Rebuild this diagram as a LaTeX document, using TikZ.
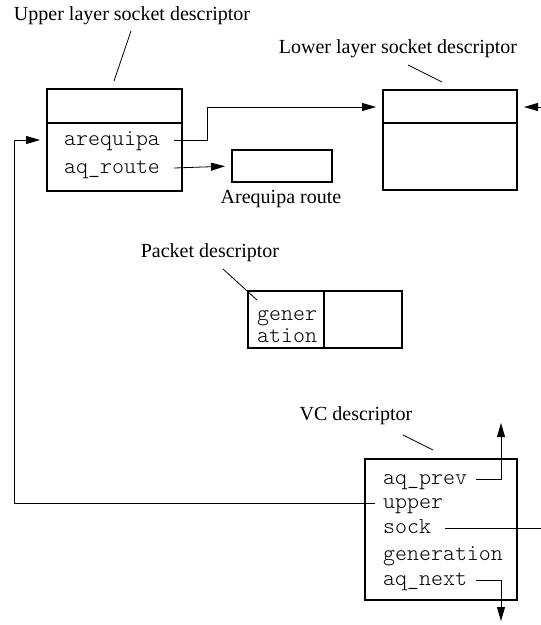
\documentclass[tikz,border=0pt]{standalone}
\usepackage{fontspec}
\setmainfont{Liberation Serif}
\setmonofont{Latin Modern Mono Light}
\usetikzlibrary{arrows.meta}
\begin{document}
\begin{tikzpicture}[x=1pt,y=-1pt,
  box/.style={draw,line width=1.3pt,inner sep=0,outer sep=0},
  fld/.style={font=\fontsize{22.8}{24}\selectfont\ttfamily,inner sep=0,anchor=west,text height=14pt,text depth=4pt},
  lbl/.style={font=\fontsize{20}{22}\selectfont,inner sep=0},
  lnk/.style={line width=0.8pt},
  arr/.style={lnk,-{Triangle[length=14pt,width=8pt]},shorten >=7pt},
  lead/.style={line width=0.8pt}]
\useasboundingbox (0,0) rectangle (541,625);
% upper layer socket descriptor
\node[box,minimum width=135pt,minimum height=102pt] (ub) at (114.5,140) {};
\draw[line width=1.3pt] (47,123) -- (182,123);
\node[fld] (arq) at (64,140) {arequipa};
\node[fld] (aqr) at (64,168) {aq\_route};
\node[lbl] (ubt) at (132,16) {Upper layer socket descriptor};
\coordinate (ubl1) at (131,31);
\coordinate (ubl2) at (114,81);
\draw[lead] (ubl1) -- (ubl2);
% lower layer socket descriptor
\node[box,minimum width=134pt,minimum height=100pt] (lb) at (450,140) {};
\draw[line width=1.3pt] (383,123) -- (517,123);
\node[lbl] (lbt) at (398,49) {Lower layer socket descriptor};
\coordinate (lbl1) at (408,65);
\coordinate (lbl2) at (442,82);
\draw[lead] (lbl1) -- (lbl2);
\coordinate (lbin) at (383,107);
\coordinate (lbinr) at (517,107);
\coordinate (redge) at (541,107);
% arequipa route
\node[box,minimum width=100pt,minimum height=32pt] (ar) at (282,166) {};
\node[lbl] (art) at (281,199) {Arequipa route};
% packet descriptor
\node[box,minimum width=154pt,minimum height=57pt] (pd) at (325,319.5) {};
\draw[line width=1.3pt] (324,291) -- (324,348);
\node[fld] (gen1) at (257,315) {gener};
\node[fld] (gen2) at (257,337) {ation};
\node[lbl] (pdt) at (210,253) {Packet descriptor};
\coordinate (pdl1) at (223,269);
\coordinate (pdl2) at (257,300);
\draw[lead] (pdl1) -- (pdl2);
% VC descriptor
\node[box,minimum width=152pt,minimum height=141pt] (vc) at (441,529.5) {};
\node[fld] (vprev) at (383,479) {aq\_prev};
\node[fld] (vup) at (383,503) {upper};
\node[fld] (vsock) at (383,528) {sock};
\node[fld] (vgen) at (383,555) {generation};
\node[fld] (vnext) at (383,580) {aq\_next};
\node[lbl] (vct) at (356,416) {VC descriptor};
\coordinate (vcl1) at (403,435);
\coordinate (vcl2) at (433,450);
\draw[lead] (vcl1) -- (vcl2);
\coordinate (ptop) at (501,416);
\coordinate (pbot) at (501,628);
\coordinate (sedge) at (541,528);
\coordinate (lft) at (14,140);
% connectors
\draw[arr] ([xshift=14pt]arq.east) -- ++(33pt,0) |- (lbin);
\draw[arr] ([xshift=14pt]aqr.east) -- (ar.west);
\draw[arr] (redge) -- (lbinr);
\draw[lnk] ([xshift=14pt]vsock.east) -- (sedge);
\draw[arr] ([xshift=9pt]vprev.east) -| (ptop);
\draw[arr] ([xshift=9pt]vnext.east) -| (pbot);
\draw[arr] ([xshift=-8pt]vup.west) -| (lft) -- (ub.west |- arq.west);
\end{tikzpicture}
\end{document}
